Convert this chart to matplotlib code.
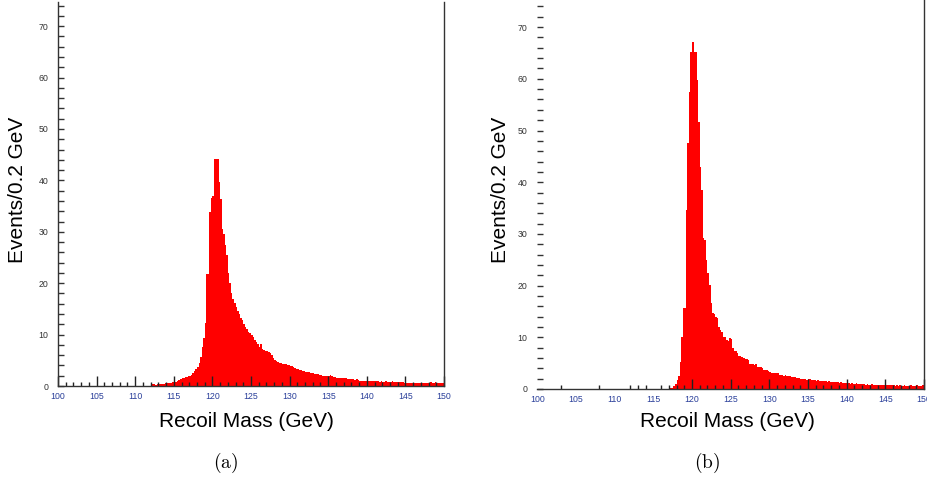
import numpy as np
import matplotlib
matplotlib.use("Agg")
import matplotlib.pyplot as plt
from matplotlib.ticker import MultipleLocator, FixedLocator

# ---------------- data ----------------
mass_lo, mass_hi, bin_w = 100.0, 150.0, 0.2

# panel (a): events per 0.2 GeV bin, 100 -> 150 GeV (10 bins per row = 2 GeV)
counts_a = [
    0, 0, 0, 0, 0, 0, 0, 0, 0, 0,                        # 100
    0, 0, 0, 0, 0, 0, 0, 0, 0, 0,                        # 102
    0, 0, 0, 0, 0, 0, 0, 0, 0, 0,                        # 104
    0, 0, 0, 0, 0, 0, 0, 0, 0, 0,                        # 106
    0, 0, 0, 0, 0, 0, 0, 0, 0, 0,                        # 108
    0, 0, 0, 0, 0, 0, 0, 0, 0, 0,                        # 110
    0.2, 0.3, 0.3, 0.2, 0.3, 0.3, 0.4, 0.3, 0.4, 0.5,    # 112
    0.5, 0.5, 0.6, 0.6, 0.7, 0.7, 0.8, 0.9, 1.1, 1.3,    # 114
    1.5, 1.6, 1.7, 1.8, 1.9, 2.0, 2.2, 2.6, 2.9, 3.4,    # 116
    3.6, 4.5, 5.6, 7.5, 9.3, 12.2, 21.8, 21.8, 33.8, 36.5,  # 118
    37.0, 44.2, 44.2, 44.2, 39.6, 36.4, 30.5, 29.5, 27.5, 25.5,  # 120
    22.0, 20.0, 18.0, 17.0, 16.2, 15.4, 14.6, 14.0, 13.2, 12.8,  # 122
    12.0, 11.5, 11.0, 10.6, 10.3, 10.0, 9.6, 9.0, 8.6, 8.2,      # 124
    7.6, 8.2, 7.2, 7.0, 6.9, 6.9, 6.7, 6.4, 6.0, 5.5,            # 126
    5.0, 4.8, 4.6, 4.5, 4.4, 4.3, 4.2, 4.2, 4.1, 4.0,            # 128
    3.9, 3.8, 3.6, 3.5, 3.4, 3.3, 3.2, 3.1, 3.0, 2.9,            # 130
    2.8, 2.8, 2.7, 2.6, 2.5, 2.5, 2.4, 2.3, 2.3, 2.2,            # 132
    2.1, 2.0, 2.0, 1.9, 1.9, 2.0, 2.1, 2.0, 1.8, 1.7,            # 134
    1.6, 1.6, 1.6, 1.5, 1.6, 1.5, 1.5, 1.4, 1.3, 1.4,            # 136
    1.3, 1.3, 1.2, 1.3, 1.2, 1.0, 1.0, 1.0, 1.0, 1.0,            # 138
    1.0, 0.9, 1.0, 0.9, 0.9, 1.0, 0.9, 0.9, 0.8, 0.9,            # 140
    0.8, 0.8, 0.9, 0.8, 0.8, 0.8, 0.9, 0.8, 0.7, 0.7,            # 142
    0.7, 0.8, 0.7, 0.7, 0.6, 0.6, 0.6, 0.6, 0.5, 0.6,            # 144
    0.6, 0.5, 0.6, 0.6, 0.5, 0.6, 0.5, 0.6, 0.5, 0.6,            # 146
    0.6, 0.7, 0.6, 0.6, 0.7, 0.6, 0.6, 0.5, 0.6, 0.5,            # 148
]

# panel (b)
counts_b = [
    0, 0, 0, 0, 0, 0, 0, 0, 0, 0,                        # 100
    0, 0, 0, 0, 0, 0, 0, 0, 0, 0,                        # 102
    0, 0, 0, 0, 0, 0, 0, 0, 0, 0,                        # 104
    0, 0, 0, 0, 0, 0, 0, 0, 0, 0,                        # 106
    0, 0, 0, 0, 0, 0, 0, 0, 0, 0,                        # 108
    0, 0, 0, 0, 0, 0, 0, 0, 0, 0,                        # 110
    0, 0, 0, 0, 0, 0, 0, 0, 0, 0,                        # 112
    0, 0, 0, 0, 0, 0, 0, 0, 0, 0,                        # 114
    0, 0, 0, 0, 0, 0, 0.1, 0.2, 0.6, 1.0,                # 116
    1.7, 2.5, 5.3, 10.1, 15.7, 15.7, 34.6, 47.6, 57.5, 65.2,     # 118
    67.2, 65.2, 65.2, 59.8, 51.7, 43.0, 38.5, 29.2, 28.8, 25.0,  # 120
    22.5, 20.1, 16.6, 14.7, 14.5, 13.9, 13.7, 12.0, 11.4, 11.0,  # 122
    10.1, 10.0, 9.5, 9.3, 9.8, 9.6, 7.9, 7.4, 7.3, 7.0,          # 124
    6.4, 6.3, 6.2, 5.9, 5.8, 5.8, 5.6, 4.9, 4.8, 4.8,            # 126
    4.7, 4.8, 4.3, 4.2, 4.2, 4.1, 3.7, 3.6, 3.6, 3.5,            # 128
    3.2, 3.1, 3.1, 3.0, 3.1, 3.0, 2.8, 2.7, 2.7, 2.6,            # 130
    2.7, 2.6, 2.5, 2.6, 2.4, 2.3, 2.3, 2.2, 2.2, 2.1,            # 132
    2.0, 2.0, 1.9, 1.9, 1.8, 1.9, 2.0, 1.8, 1.7, 1.7,            # 134
    1.6, 1.7, 1.6, 1.5, 1.6, 1.5, 1.5, 1.4, 1.5, 1.4,            # 136
    1.4, 1.3, 1.4, 1.3, 1.3, 1.2, 1.3, 1.2, 1.2, 1.1,            # 138
    1.1, 1.1, 1.0, 1.1, 1.0, 1.0, 1.1, 1.0, 0.9, 1.0,            # 140
    0.9, 0.9, 0.8, 0.9, 0.8, 0.8, 0.9, 0.8, 0.8, 0.8,            # 142
    0.8, 0.7, 0.8, 0.8, 0.7, 0.8, 0.7, 0.7, 0.7, 0.7,            # 144
    0.7, 0.6, 0.7, 0.6, 0.7, 0.6, 0.6, 0.7, 0.6, 0.6,            # 146
    0.6, 0.7, 0.6, 0.6, 0.6, 0.7, 0.6, 0.6, 0.6, 0.7,            # 148
]

x_major = [100, 105, 110, 115, 120, 125, 130, 135, 140, 145, 150]
x_major_labels = ["100", "105", "110", "115", "120", "125", "130", "135", "140", "145", "150"]
y_major = [0, 10, 20, 30, 40, 50, 60, 70]
y_major_labels = ["0", "10", "20", "30", "40", "50", "60", "70"]
xlabel = "Recoil Mass (GeV)"
ylabel = "Events/0.2 GeV"
captions = ["(a)", "(b)"]

# ---------------- figure ----------------
plt.rcParams["mathtext.fontset"] = "cm"
W, H = 928, 479
fig = plt.figure(figsize=(W / 100, H / 100), dpi=100)

def px_axes(l, r, t, b):
    return fig.add_axes([l / W, 1 - b / H, (r - l) / W, (b - t) / H])

edges = mass_lo + bin_w * np.arange(len(counts_a) + 1)

tick_font = dict(family="Liberation Sans", size=6.3)

def style(ax, counts, ytop, show_left, xminor):
    ax.stairs(counts, edges, fill=True, color="#ff0000", linewidth=0)
    ax.set_xlim(mass_lo, mass_hi)
    ax.set_ylim(0, ytop)
    ax.spines["top"].set_visible(False)
    ax.spines["left"].set_visible(show_left)
    for s in ["left", "bottom", "right"]:
        ax.spines[s].set_color("#333333")
        ax.spines[s].set_linewidth(1.0)
    ax.set_xticks(x_major)
    ax.set_xticklabels(x_major_labels, **tick_font, color="#2a3f9a")
    ax.xaxis.set_minor_locator(FixedLocator(xminor))
    ax.set_yticks(y_major)
    ax.set_yticklabels(y_major_labels, **tick_font, color="#333333")
    ax.yaxis.set_minor_locator(MultipleLocator(2))
    ax.tick_params(axis="x", which="major", direction="in", length=7, width=1,
                   color="#222222", pad=4, top=False)
    ax.tick_params(axis="x", which="minor", direction="in", length=3, width=1,
                   color="#222222", top=False)
    ax.tick_params(axis="y", which="both", direction="in", length=4, width=1,
                   color="#333333", pad=7, right=False)

ax_a = px_axes(58, 444, 2, 386)
minor_a = [v for v in range(101, 150) if v % 5 != 0]
style(ax_a, counts_a, (386 - 2) / 5.14, True, minor_a)

ax_b = px_axes(537.3, 924, 0, 389)
minor_b = [103, 108, 112, 113, 114, 116] + [v for v in range(117, 150) if v % 5 != 0]
style(ax_b, counts_b, 389 / 5.17, False, minor_b)
for t, v in zip(ax_b.xaxis.get_major_ticks(), x_major):
    if v < 120:
        t.tick1line.set_visible(False)

label_font = dict(family="Liberation Sans", size=15, color="black")
fig.text(18 / W, 1 - 190 / H, ylabel, rotation=90, ha="center", va="center", **label_font)
fig.text(500 / W, 1 - 190 / H, ylabel, rotation=90, ha="center", va="center", **label_font)
fig.text(246.7 / W, 1 - 421.7 / H, xlabel, ha="center", va="center", **label_font)
fig.text(727 / W, 1 - 421.7 / H, xlabel, ha="center", va="center", **label_font)

fig.text(226 / W, 1 - 463 / H, r"$\mathrm{" + captions[0] + "}$", ha="center", va="center", size=14)
fig.text(706.7 / W, 1 - 463 / H, r"$\mathrm{" + captions[1] + "}$", ha="center", va="center", size=14)

fig.savefig("out.png", dpi=100)
